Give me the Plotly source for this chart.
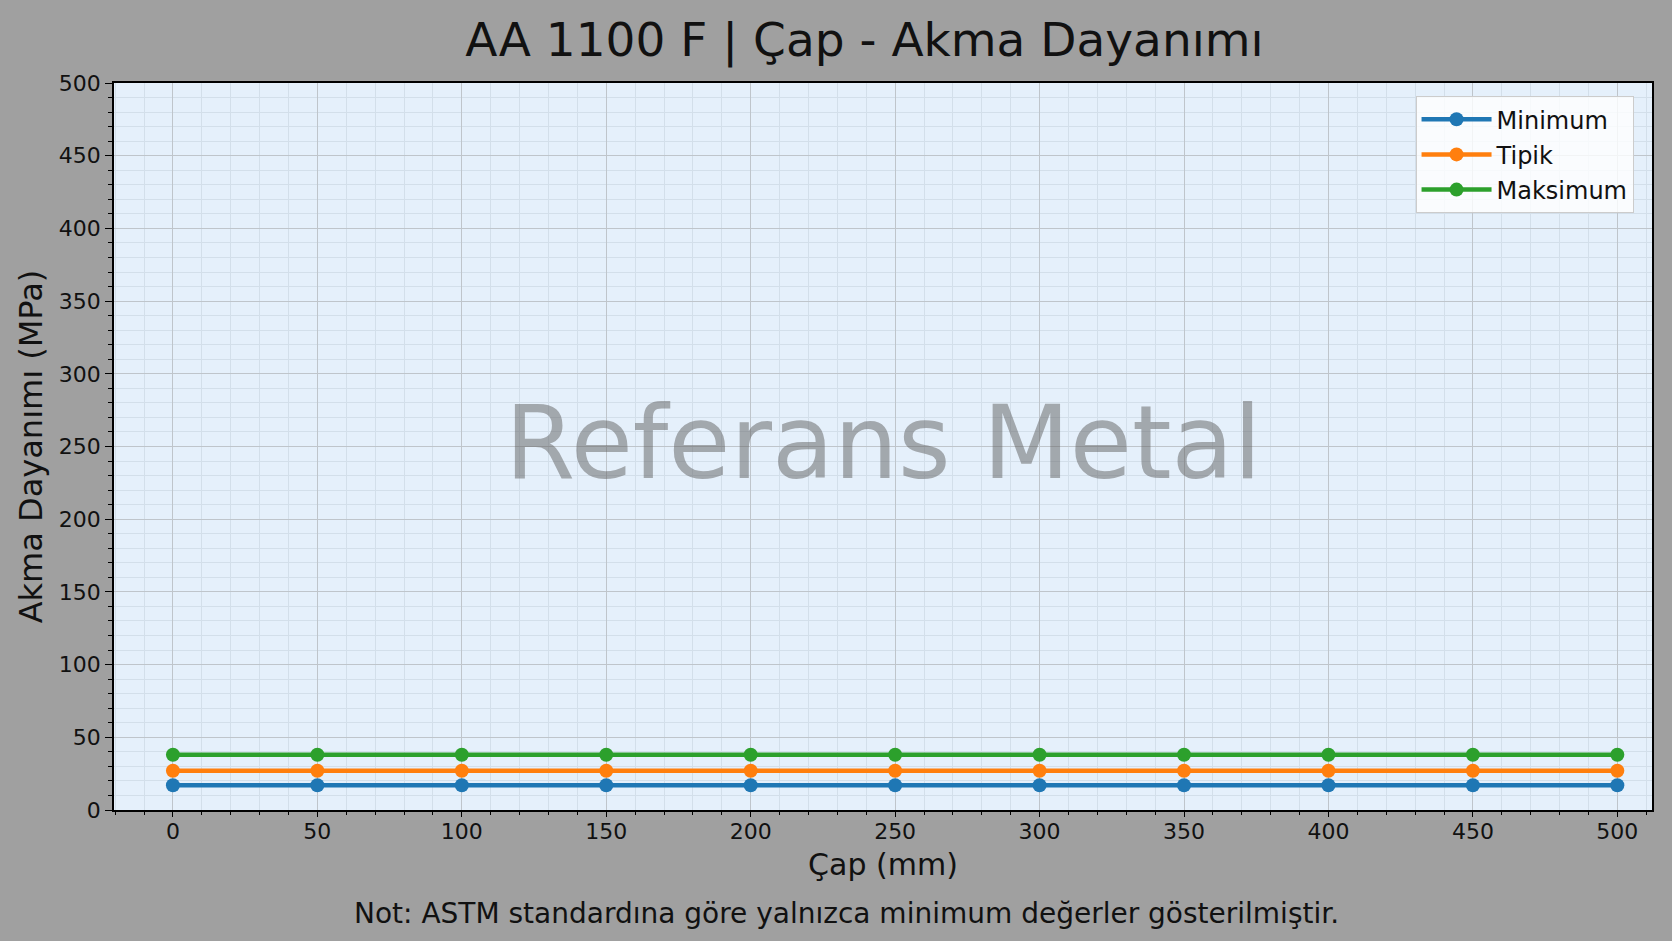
import plotly.graph_objects as go

# diameter (mm) and yield strength (MPa)
cap_mm = [0, 50, 100, 150, 200, 250, 300, 350, 400, 450, 500]
minimum = [17, 17, 17, 17, 17, 17, 17, 17, 17, 17, 17]
tipik = [27, 27, 27, 27, 27, 27, 27, 27, 27, 27, 27]
maksimum = [38, 38, 38, 38, 38, 38, 38, 38, 38, 38, 38]

series_names = ["Minimum", "Tipik", "Maksimum"]
series_colors = ["#1f77b4", "#ff7f0e", "#2ca02c"]

FONT = "DejaVu Sans"

fig = go.Figure()
for name, vals, col in zip(series_names, [minimum, tipik, maksimum], series_colors):
    fig.add_trace(
        go.Scatter(
            x=cap_mm,
            y=vals,
            name=name,
            legendgroup=name,
            mode="lines+markers",
            line=dict(color=col, width=4.5),
            marker=dict(color=col, size=14),
        )
    )

axis_common = dict(
    showline=True,
    linecolor="black",
    linewidth=1.5,
    mirror=True,
    ticks="outside",
    tickwidth=1.2,
    tickcolor="black",
    tickfont=dict(family=FONT, size=22, color="#111111"),
    showgrid=True,
    gridcolor="#bfc5cb",
    gridwidth=1,
    zeroline=False,
)

fig.update_layout(
    width=1672,
    height=941,
    paper_bgcolor="#a0a0a0",
    plot_bgcolor="#e5f0fb",
    margin=dict(l=114, r=20, t=83, b=131),
    font=dict(family=FONT, color="#111111"),
    title=dict(
        text="AA 1100 F | Çap - Akma Dayanımı",
        font=dict(family=FONT, size=47, color="#111111"),
        x=0.517,
        xanchor="center",
        y=1 - 40 / 941,
        yanchor="middle",
    ),
    xaxis=dict(
        axis_common,
        range=[-20.4, 512],
        tick0=0,
        dtick=50,
        ticklen=5,
        ticklabelstandoff=-4,
        minor=dict(dtick=10, ticks="outside", ticklen=3, tickcolor="black",
                   showgrid=True, gridcolor="#d3dfea", gridwidth=0.8),
        title=dict(text="Çap (mm)", font=dict(family=FONT, size=30), standoff=11),
    ),
    yaxis=dict(
        axis_common,
        range=[0, 500],
        tick0=0,
        dtick=50,
        ticklen=7,
        minor=dict(dtick=10, ticks="outside", ticklen=4, tickcolor="black",
                   showgrid=True, gridcolor="#d3dfea", gridwidth=0.8),
        title=dict(text="Akma Dayanımı (MPa)", font=dict(family=FONT, size=32), standoff=7),
    ),
    legend=dict(
        x=0.988,
        y=0.982,
        xanchor="right",
        yanchor="top",
        bgcolor="rgba(255,255,255,0.8)",
        bordercolor="#cccccc",
        borderwidth=1,
        font=dict(family=FONT, size=24, color="#111111"),
        itemwidth=70,
        tracegroupgap=1,
    ),
    showlegend=True,
)

# watermark
fig.add_annotation(
    text="Referans Metal",
    xref="paper",
    yref="paper",
    x=0.5,
    y=1 - (443 - 83) / 727,
    showarrow=False,
    font=dict(family=FONT, size=101, color="rgba(96,96,96,0.5)"),
)

# footnote
fig.add_annotation(
    text="Not: ASTM standardına göre yalnızca minimum değerler gösterilmiştir.",
    xref="paper",
    yref="paper",
    x=(846 - 114) / 1538,
    y=-(913 - 810) / 727,
    yanchor="middle",
    showarrow=False,
    font=dict(family=FONT, size=28, color="#111111"),
)

fig.write_html(
    "out.html",
    config=dict(displayModeBar=False),
    post_script="document.body.style.margin='0';",
)
